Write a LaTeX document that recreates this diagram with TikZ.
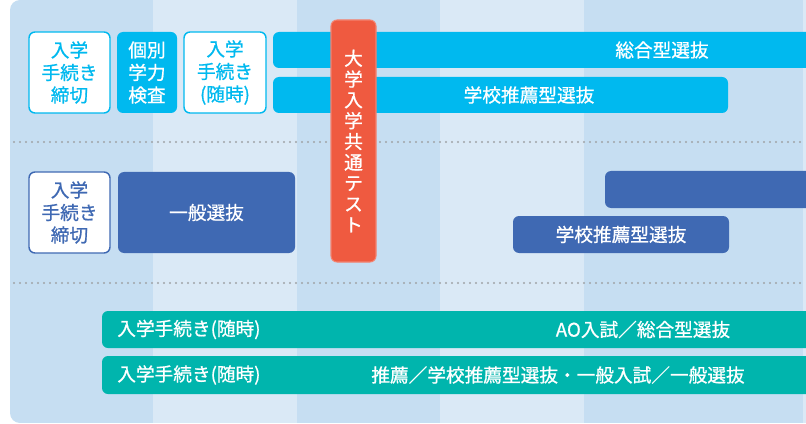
\documentclass[tikz,border=0pt]{standalone}
\usepackage{fontspec}
\newfontfamily\jp[FakeBold=0.8]{Noto Sans CJK JP}
\definecolor{cyanbar}{HTML}{00B9EF}
\definecolor{navybar}{HTML}{3F69B3}
\definecolor{testred}{HTML}{EF5A40}
\definecolor{tealbar}{HTML}{00B5AD}
\definecolor{stripedark}{HTML}{C6DEF2}
\definecolor{stripelight}{HTML}{DAE9F6}
\definecolor{dotgray}{HTML}{A0A4A8}
\tikzset{
  box/.style={rectangle,rounded corners=4.5pt,inner sep=0pt,align=center,
    font=\jp\fontsize{14}{16.9}\selectfont},
  sz/.style 2 args={minimum width=#1*0.75pt,minimum height=#2*0.75pt},
  outlinebox/.style={box,fill=white,draw=#1,text=#1,line width=1.1pt},
  solidbox/.style={box,fill=#1,text=white},
  lbl/.style={inner sep=0pt,text=white,font=\jp\fontsize{14}{16.9}\selectfont},
  sep/.style={dotgray,line width=1.7pt,line cap=round,dash pattern=on 0pt off 4.5pt}
}
\begin{document}
\begin{tikzpicture}[x=0.75pt,y=-0.75pt]
  \useasboundingbox (0,0) rectangle (806,424);
  \fill[white] (0,0) rectangle (806,424);
  \clip (0,0) rectangle (806,424);

  % panel with column stripes
  \begin{scope}
    \clip[rounded corners=7.5pt] (10,0) rectangle (840,423);
    \fill[stripedark] (10,0) rectangle (153,423);
    \fill[stripelight] (153,0) rectangle (297,423);
    \fill[stripedark] (297,0) rectangle (440,423);
    \fill[stripelight] (440,0) rectangle (584,423);
    \fill[stripedark] (584,0) rectangle (803,423);
    \fill[stripelight] (803,0) rectangle (840,423);
  \end{scope}

  % separators
  \coordinate (s1a) at (14,142); \coordinate (s1b) at (806,142);
  \coordinate (s2a) at (14,283); \coordinate (s2b) at (806,283);
  \draw[sep] (s1a) -- (s1b);
  \draw[sep] (s2a) -- (s2b);

  % first row
  \node[outlinebox=cyanbar,sz={81}{81}] (close1) at (69.5,72.5) {入学\\手続き\\締切};
  \node[solidbox=cyanbar,sz={60}{81}] (exam) at (147,72.5) {個別\\学力\\検査};
  \node[outlinebox=cyanbar,sz={82}{81}] (anytime1) at (225,72.5) {入学\\手続き\\(随時)};
  \node[solidbox=cyanbar,sz={557}{36}] (sogo) at (551.5,50) {};
  \node[lbl] (sogo-t) at (662,50) {総合型選抜};
  \node[solidbox=cyanbar,sz={455}{36}] (suisen1) at (500.5,95) {};
  \node[lbl] (suisen1-t) at (529,95) {学校推薦型選抜};

  % second row
  \node[outlinebox=navybar,sz={81}{81}] (close2) at (69.5,212.5) {入学\\手続き\\締切};
  \node[solidbox=navybar,sz={177}{81}] (ippan) at (206.5,212.5) {一般選抜};
  \node[solidbox=navybar,sz={225}{37}] (ippan2) at (717.5,189.5) {};
  \node[solidbox=navybar,sz={216}{37}] (suisen2) at (621,234.5) {学校推薦型選抜};

  % common test
  \node[solidbox=testred,draw=testred!75!white,line width=0.8pt,sz={45}{242},
    font=\jp\fontsize{14}{15.6}\selectfont] (kyotsu) at (353.5,141)
    {大\\学\\入\\学\\共\\通\\テ\\ス\\ト};

  % third row
  \node[solidbox=tealbar,sz={738}{37}] (ao) at (471,329.5) {};
  \node[lbl,anchor=west] (ao-l) at (117,329.5) {入学手続き(随時)};
  \node[lbl] (ao-t) at (643,329.5) {AO入試／総合型選抜};
  \node[solidbox=tealbar,sz={738}{38}] (suisen3) at (471,375) {};
  \node[lbl,anchor=west] (suisen3-l) at (117,375) {入学手続き(随時)};
  \node[lbl] (suisen3-t) at (558,375) {推薦／学校推薦型選抜・一般入試／一般選抜};
\end{tikzpicture}
\end{document}
